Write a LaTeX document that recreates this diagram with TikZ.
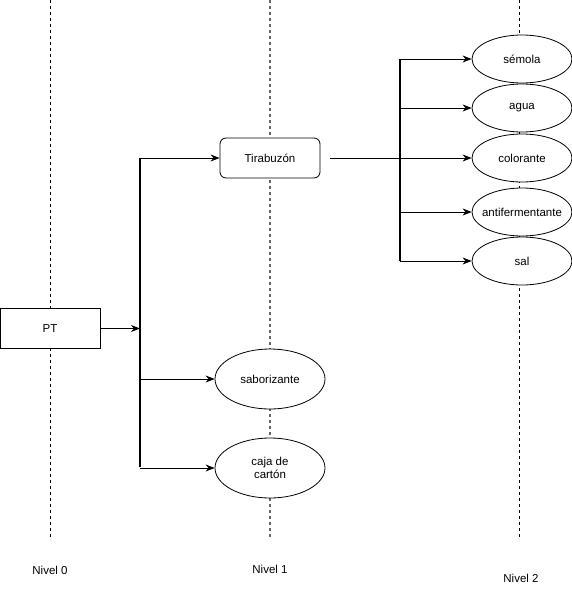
\documentclass[tikz,border=0pt]{standalone}
\usepackage{fontspec}
\setmainfont{Liberation Sans}
\usetikzlibrary{shapes.geometric,arrows.meta}
\tikzset{
  nivel/.style={dash pattern=on 3pt off 3pt,line width=0.8pt},
  caja/.style={draw,line width=0.8pt,minimum width=100pt,minimum height=40pt,inner sep=0pt},
  elip/.style={draw,ellipse,line width=0.8pt,minimum width=100pt,minimum height=48pt,inner sep=0pt},
  flecha/.style={-{Stealth[length=9pt,width=7pt]},line width=0.9pt},
  tronco/.style={line width=2pt}
}
\begin{document}
\begin{tikzpicture}[x=1pt,y=-1pt,font=\fontsize{11.5}{13.5}\selectfont]
\useasboundingbox (0,0) rectangle (572,589);
  % lineas de nivel
  \draw[nivel] (50,0) -- (50,540);
  \draw[nivel,black!60,line width=1.3pt] (270,0) -- (270,540);
  \draw[nivel] (519,0) -- (519,540);
  \node (n0) at (50,570) {Nivel 0};
  \node (n1) at (270,569) {Nivel 1};
  \node (n2) at (521,578) {Nivel 2};
\node[caja,fill=white] (pt) at (50,328.5) {PT};
  \node[caja,fill=white,rounded corners=6pt] (tira) at (270,158) {Tirabuzón};
  \node[elip,fill=white,minimum width=110pt,minimum height=60pt] (sabor) at (270,379) {saborizante};
  \node[elip,fill=white,minimum width=110pt,minimum height=60pt,align=center] (caja) at (270,468) {caja de\\cartón};
  \node[elip,fill=white] (semola) at (522,59) {sémola};
  \node[elip,fill=white] (agua) at (522,108) {agua};
  \node[elip,fill=white] (color) at (522,158) {colorante};
  \node[elip,fill=white] (anti) at (522,212) {\makebox[0pt]{antifermentante}};
  \node[elip,fill=white] (sal) at (522,261) {sal};
  % nivel 1
  \coordinate (a1) at (140,158);
  \coordinate (a2) at (140,467);
  \draw[tronco] (a1) -- (a2);
  \draw[flecha] (pt.east) -- (pt.east -| a1);
  \draw[flecha] (a1) -- (tira.west);
  \draw[flecha] (sabor.west -| a1) -- (sabor.west);
  \draw[flecha] (caja.west -| a1) -- (caja.west);
  % nivel 2
  \coordinate (b1) at (400,59);
  \coordinate (b2) at (400,261);
  \coordinate (t0) at (330,158);
  \draw[tronco] (b1) -- (b2);
  \draw[flecha] (t0) -- (color.west);
  \draw[flecha] (b1) -- (semola.west);
  \draw[flecha] (agua.west -| b1) -- (agua.west);
  \draw[flecha] (anti.west -| b1) -- (anti.west);
  \draw[flecha] (b2) -- (sal.west);
\end{tikzpicture}
\end{document}
